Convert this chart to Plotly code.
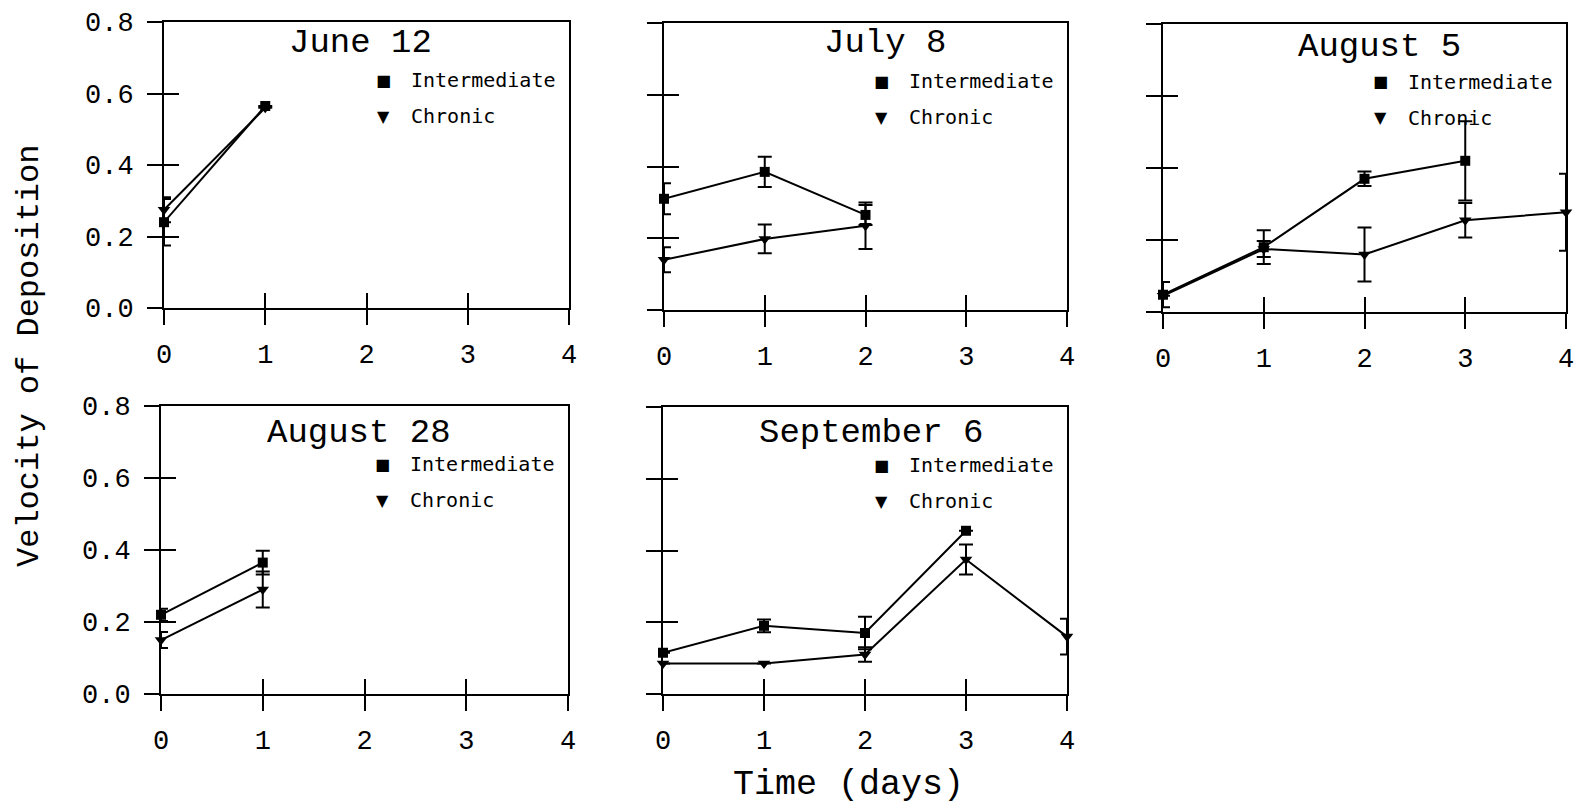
import plotly.graph_objects as go

# Sampling dates (one panel each) and sampling days
DATES = ["June 12", "July 8", "August 5", "August 28", "September 6"]
DAYS = [0, 1, 2, 3, 4]

# Intermediate series: mean velocity of deposition and error per day
INT_MEAN = [
    [0.24, 0.565],
    [0.31, 0.385, 0.265],
    [0.048, 0.18, 0.37, 0.42],
    [0.22, 0.365],
    [0.115, 0.19, 0.17, 0.455],
]
INT_ERR = [
    [0.065, None],
    [0.043, 0.042, 0.028],
    [0.035, 0.047, 0.02, 0.11],
    [0.017, 0.033],
    [None, 0.018, 0.045, None],
]

# Chronic series: mean velocity of deposition and error per day
CHR_MEAN = [
    [0.275, 0.56],
    [0.14, 0.198, 0.235],
    [0.045, 0.175, 0.16, 0.255, 0.277],
    [0.15, 0.29],
    [0.085, 0.085, 0.11, 0.375, 0.16],
]
CHR_ERR = [
    [0.035, None],
    [0.035, 0.04, 0.065],
    [None, 0.022, 0.075, 0.048, 0.107],
    [0.022, 0.05],
    [None, None, 0.02, 0.042, 0.05],
]

Y_TICKS = [0.0, 0.2, 0.4, 0.6, 0.8]
X_TICKS = [0, 1, 2, 3, 4]

W, H = 1583, 811
FONT = "Liberation Mono"
KEY_FONT = "DejaVu Sans Mono"
INK = "black"

# Panel boxes in pixels: left, top, right, bottom
BOXES = [
    (164, 22, 569, 308),
    (664, 23, 1067, 310),
    (1163, 24, 1566, 312),
    (161, 406, 568, 694),
    (663, 407, 1067, 694),
]
# Horizontal centre of each panel title, as a fraction of the panel width
TITLE_X = [0.486, 0.548, 0.536, 0.486, 0.515]
TITLE_DROP = [21, 20, 23, 27, 26]

fig = go.Figure()
annotations = []
layout = {}


def add_series(x, y, err, symbol, size, xa, ya, name):
    fig.add_trace(go.Scatter(
        x=x, y=y, name=name, mode="lines+markers",
        line=dict(color=INK, width=2),
        marker=dict(symbol=symbol, size=size, color=INK),
        error_y=dict(type="data", array=err, visible=True, color=INK,
                     thickness=2, width=7),
        xaxis=xa, yaxis=ya, cliponaxis=False, showlegend=False,
    ))


def add_twin_holder(xa, ya):
    # an empty trace so that the twin axis gets drawn
    fig.add_trace(go.Scatter(x=[], y=[], xaxis=xa, yaxis=ya,
                             showlegend=False, hoverinfo="skip"))


for i, date in enumerate(DATES):
    n = i + 1
    xa = "x" if n == 1 else f"x{n}"
    ya = "y" if n == 1 else f"y{n}"
    l, t, r, b = BOXES[i]

    add_series(DAYS[:len(INT_MEAN[i])], INT_MEAN[i], INT_ERR[i],
               "square", 10, xa, ya, "Intermediate")
    add_series(DAYS[:len(CHR_MEAN[i])], CHR_MEAN[i], CHR_ERR[i],
               "triangle-down", 11, xa, ya, "Chronic")
    add_twin_holder(f"x{n + 5}", ya)
    add_twin_holder(xa, f"y{n + 5}")

    common = dict(showgrid=False, zeroline=False, fixedrange=True,
                  automargin=False, tickcolor=INK, tickwidth=2, ticklen=15)
    # main axes: frame lines and the outer half of each tick
    layout[f"xaxis{n}"] = dict(
        domain=[l / W, r / W], range=[0, 4], anchor=ya,
        tickvals=X_TICKS, ticks="outside", showticklabels=False,
        showline=True, linecolor=INK, linewidth=2, mirror=True, **common)
    layout[f"yaxis{n}"] = dict(
        domain=[1 - b / H, 1 - t / H], range=[0, 0.8], anchor=xa,
        tickvals=Y_TICKS, ticktext=[f"{v:.1f}" for v in Y_TICKS],
        ticks="outside", showticklabels=(n in (1, 4)),
        ticklabelstandoff=8,
        tickfont=dict(family=FONT, size=27, color=INK),
        showline=True, linecolor=INK, linewidth=2, mirror=True, **common)
    # twin axes: inner half of each tick, plus the day labels
    layout[f"xaxis{n + 5}"] = dict(
        overlaying=xa, anchor=ya, side="bottom", range=[0, 4],
        tickvals=X_TICKS, ticks="inside", showticklabels=True,
        ticklabelstandoff=27,
        tickfont=dict(family=FONT, size=27, color=INK),
        showline=False, **common)
    layout[f"yaxis{n + 5}"] = dict(
        overlaying=ya, anchor=xa, side="left", range=[0, 0.8],
        tickvals=Y_TICKS, ticks="inside", showticklabels=False,
        showline=False, **common)

    # panel title
    annotations.append(dict(
        text=date, xref=f"{xa} domain", yref=f"{ya} domain",
        x=TITLE_X[i], y=1, xanchor="center", yanchor="middle",
        yshift=-TITLE_DROP[i], showarrow=False,
        font=dict(family=FONT, size=34, color=INK)))
    # in-panel key
    for glyph, label, drop, gsize in (("■", "Intermediate", 58, 16),
                                      ("▼", "Chronic", 94, 16)):
        annotations.append(dict(
            text=glyph, xref=f"{xa} domain", yref=f"{ya} domain",
            x=1, y=1, xanchor="center", yanchor="middle",
            xshift=-186, yshift=-drop, showarrow=False,
            font=dict(family="DejaVu Sans", size=gsize, color=INK)))
        annotations.append(dict(
            text=label, xref=f"{xa} domain", yref=f"{ya} domain",
            x=1, y=1, xanchor="left", yanchor="middle",
            xshift=-160, yshift=-drop, showarrow=False,
            font=dict(family=KEY_FONT, size=20, color=INK)))

# shared axis titles
annotations.append(dict(
    text="Velocity of Deposition", xref="paper", yref="paper",
    x=29 / W, y=1 - 356 / H, textangle=-90, showarrow=False,
    xanchor="center", yanchor="middle",
    font=dict(family=FONT, size=32, color=INK)))
annotations.append(dict(
    text="Time (days)", xref="paper", yref="paper",
    x=848 / W, y=1 - 785 / H, showarrow=False,
    xanchor="center", yanchor="middle",
    font=dict(family=FONT, size=35, color=INK)))

fig.update_layout(
    template="none",
    width=W, height=H,
    margin=dict(l=0, r=0, t=0, b=0, autoexpand=False),
    paper_bgcolor="white", plot_bgcolor="white",
    showlegend=False,
    annotations=annotations,
    **layout,
)

fig.write_html("out.html")
